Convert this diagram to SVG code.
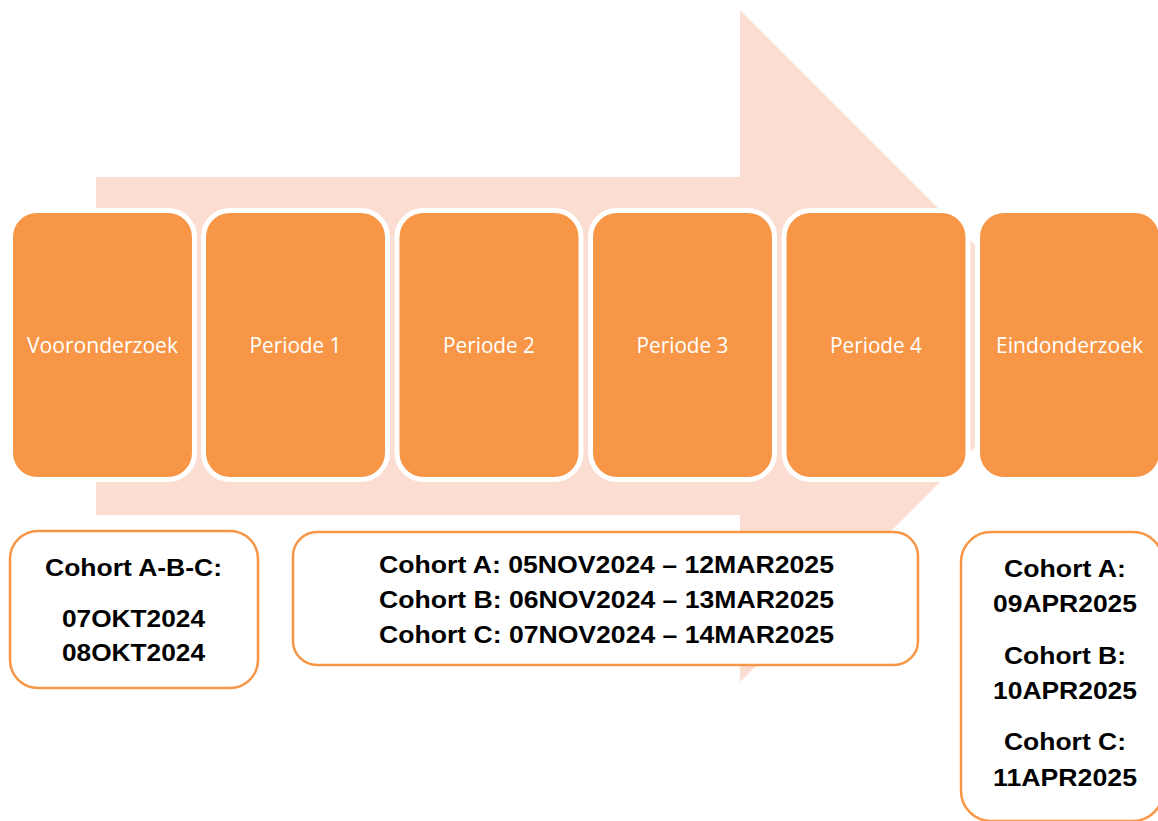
<svg xmlns="http://www.w3.org/2000/svg" width="1158" height="821" viewBox="0 0 1158 821">
<defs>
<style>
.stage{fill:#F79646;stroke:#FFFFFF;stroke-width:10;paint-order:stroke}
.stxt{font-family:"Open Sans","Noto Sans",sans-serif;font-size:21px;fill:#FFFFFF;text-anchor:middle}
.note{fill:#FFFFFF;stroke:#F79646;stroke-width:2.5}
.ntxt{font-family:"Liberation Sans",Arial,sans-serif;font-weight:bold;font-size:24px;fill:#000000;text-anchor:middle}
</style>
</defs>
<rect width="1158" height="821" fill="#FFFFFF"/>
<g id="arrow">
<polygon points="96,177 740,177 740,10 1076,346 740,682 740,515 96,515" fill="#FCDDD1"/>
</g>
<g id="connectors"></g>
<g id="vooronderzoek">
<rect class="stage" x="13" y="213" width="179" height="264" rx="24"/>
<text class="stxt" x="102.5" y="353" textLength="151" lengthAdjust="spacingAndGlyphs">Vooronderzoek</text>
</g>
<g id="periode1">
<rect class="stage" x="206" y="213" width="179" height="264" rx="24"/>
<text class="stxt" x="295.5" y="353" textLength="92" lengthAdjust="spacingAndGlyphs">Periode 1</text>
</g>
<g id="periode2">
<rect class="stage" x="399.5" y="213" width="179" height="264" rx="24"/>
<text class="stxt" x="489" y="353" textLength="92" lengthAdjust="spacingAndGlyphs">Periode 2</text>
</g>
<g id="periode3">
<rect class="stage" x="593" y="213" width="179" height="264" rx="24"/>
<text class="stxt" x="682.5" y="353" textLength="92" lengthAdjust="spacingAndGlyphs">Periode 3</text>
</g>
<g id="periode4">
<rect class="stage" x="786.5" y="213" width="179" height="264" rx="24"/>
<text class="stxt" x="876" y="353" textLength="92" lengthAdjust="spacingAndGlyphs">Periode 4</text>
</g>
<g id="eindonderzoek">
<rect class="stage" x="980" y="213" width="179" height="264" rx="24"/>
<text class="stxt" x="1069.5" y="353" textLength="147" lengthAdjust="spacingAndGlyphs">Eindonderzoek</text>
</g>
<g id="note-vooronderzoek">
<rect class="note" x="10" y="531" width="248" height="157" rx="28"/>
<text class="ntxt" x="133.5" y="576" textLength="177" lengthAdjust="spacingAndGlyphs">Cohort A-B-C:</text>
<text class="ntxt" x="133.5" y="627" textLength="143" lengthAdjust="spacingAndGlyphs">07OKT2024</text>
<text class="ntxt" x="133.5" y="661" textLength="143" lengthAdjust="spacingAndGlyphs">08OKT2024</text>
</g>
<g id="note-perioden">
<rect class="note" x="293" y="532" width="625" height="133" rx="24"/>
<text class="ntxt" x="606.5" y="573" textLength="455" lengthAdjust="spacingAndGlyphs">Cohort A: 05NOV2024 – 12MAR2025</text>
<text class="ntxt" x="606.5" y="608" textLength="455" lengthAdjust="spacingAndGlyphs">Cohort B: 06NOV2024 – 13MAR2025</text>
<text class="ntxt" x="606.5" y="643" textLength="455" lengthAdjust="spacingAndGlyphs">Cohort C: 07NOV2024 – 14MAR2025</text>
</g>
<g id="note-eindonderzoek">
<rect class="note" x="961" y="532" width="202" height="289" rx="30"/>
<text class="ntxt" x="1065" y="577" textLength="122" lengthAdjust="spacingAndGlyphs">Cohort A:</text>
<text class="ntxt" x="1065" y="612" textLength="144" lengthAdjust="spacingAndGlyphs">09APR2025</text>
<text class="ntxt" x="1065" y="664" textLength="122" lengthAdjust="spacingAndGlyphs">Cohort B:</text>
<text class="ntxt" x="1065" y="699" textLength="144" lengthAdjust="spacingAndGlyphs">10APR2025</text>
<text class="ntxt" x="1065" y="750" textLength="122" lengthAdjust="spacingAndGlyphs">Cohort C:</text>
<text class="ntxt" x="1065" y="786" textLength="144" lengthAdjust="spacingAndGlyphs">11APR2025</text>
</g>
</svg>
